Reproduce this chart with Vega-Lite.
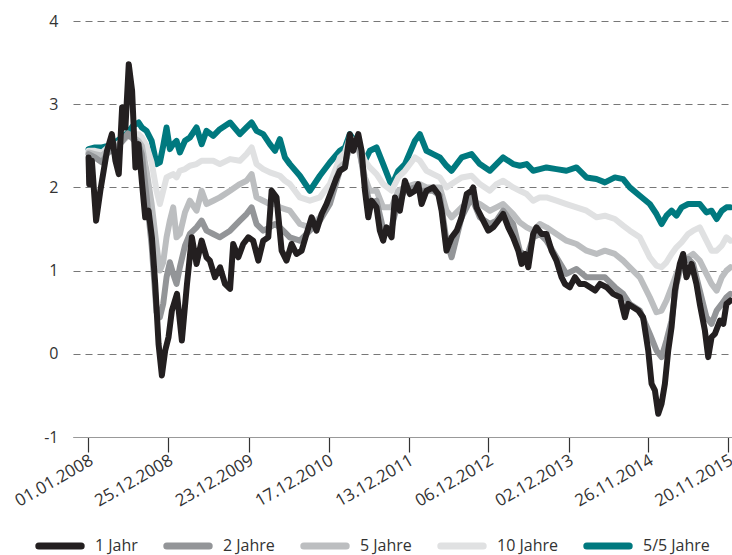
{
  "$schema": "https://vega.github.io/schema/vega-lite/v6.json",
  "width": 659,
  "height": 416,
  "autosize": {"type": "none"},
  "padding": {"left": 73, "top": 21, "right": 0, "bottom": 118},
  "background": "white",
  "config": {"font": "Open Sans", "view": {"stroke": null}},
  "data": {
    "values": [
      {"d":"2008-01-02","2 Jahre":2.40,"5 Jahre":2.42,"10 Jahre":2.44,"5/5 Jahre":2.46},
      {"d":"2008-01-31","2 Jahre":2.36,"5 Jahre":2.40,"10 Jahre":2.44,"5/5 Jahre":2.48},
      {"d":"2008-03-02","2 Jahre":2.30,"5 Jahre":2.38,"10 Jahre":2.42,"5/5 Jahre":2.48},
      {"d":"2008-03-29","2 Jahre":2.42,"5 Jahre":2.45,"10 Jahre":2.48,"5/5 Jahre":2.50},
      {"d":"2008-04-30","2 Jahre":2.45,"5 Jahre":2.48,"10 Jahre":2.50,"5/5 Jahre":2.54},
      {"d":"2008-05-31","2 Jahre":2.55,"5 Jahre":2.55,"10 Jahre":2.56,"5/5 Jahre":2.60},
      {"d":"2008-06-27","2 Jahre":2.65,"5 Jahre":2.62,"10 Jahre":2.62,"5/5 Jahre":2.66},
      {"d":"2008-07-20","2 Jahre":2.58,"5 Jahre":2.60,"10 Jahre":2.64,"5/5 Jahre":2.74},
      {"d":"2008-08-14","2 Jahre":2.52,"5 Jahre":2.56,"10 Jahre":2.64,"5/5 Jahre":2.78},
      {"d":"2008-08-29","2 Jahre":2.40,"5 Jahre":2.50,"10 Jahre":2.60,"5/5 Jahre":2.72},
      {"d":"2008-09-19","2 Jahre":1.90,"5 Jahre":2.20,"10 Jahre":2.50,"5/5 Jahre":2.68},
      {"d":"2008-10-12","2 Jahre":1.30,"5 Jahre":1.80,"10 Jahre":2.30,"5/5 Jahre":2.56},
      {"d":"2008-11-03","2 Jahre":0.50,"5 Jahre":1.30,"10 Jahre":1.96,"5/5 Jahre":2.28},
      {"d":"2008-11-18","2 Jahre":0.44,"5 Jahre":1.00,"10 Jahre":1.80,"5/5 Jahre":2.30},
      {"d":"2008-12-03","2 Jahre":0.60,"5 Jahre":1.10,"10 Jahre":1.96,"5/5 Jahre":2.50},
      {"d":"2008-12-18","2 Jahre":0.92,"5 Jahre":1.40,"10 Jahre":2.12,"5/5 Jahre":2.72},
      {"d":"2009-01-02","2 Jahre":1.10,"5 Jahre":1.60,"10 Jahre":2.14,"5/5 Jahre":2.46},
      {"d":"2009-01-17","2 Jahre":0.96,"5 Jahre":1.76,"10 Jahre":2.16,"5/5 Jahre":2.52},
      {"d":"2009-02-01","2 Jahre":0.84,"5 Jahre":1.40,"10 Jahre":2.12,"5/5 Jahre":2.56},
      {"d":"2009-02-16","2 Jahre":1.04,"5 Jahre":1.44,"10 Jahre":2.20,"5/5 Jahre":2.42},
      {"d":"2009-03-11","2 Jahre":1.30,"5 Jahre":1.70,"10 Jahre":2.22,"5/5 Jahre":2.56},
      {"d":"2009-04-02","2 Jahre":1.44,"5 Jahre":1.84,"10 Jahre":2.26,"5/5 Jahre":2.60},
      {"d":"2009-05-02","2 Jahre":1.52,"5 Jahre":1.72,"10 Jahre":2.28,"5/5 Jahre":2.72},
      {"d":"2009-05-25","2 Jahre":1.60,"5 Jahre":1.96,"10 Jahre":2.32,"5/5 Jahre":2.52},
      {"d":"2009-06-16","2 Jahre":1.48,"5 Jahre":1.80,"10 Jahre":2.32,"5/5 Jahre":2.68},
      {"d":"2009-07-16","2 Jahre":1.44,"5 Jahre":1.84,"10 Jahre":2.32,"5/5 Jahre":2.62},
      {"d":"2009-08-15","2 Jahre":1.40,"5 Jahre":1.88,"10 Jahre":2.28,"5/5 Jahre":2.70},
      {"d":"2009-09-30","2 Jahre":1.48,"5 Jahre":1.96,"10 Jahre":2.34,"5/5 Jahre":2.78},
      {"d":"2009-11-13","2 Jahre":1.60,"5 Jahre":2.04,"10 Jahre":2.32,"5/5 Jahre":2.64},
      {"d":"2009-12-13","2 Jahre":1.68,"5 Jahre":2.08,"10 Jahre":2.40,"5/5 Jahre":2.72},
      {"d":"2010-01-05","2 Jahre":1.76,"5 Jahre":2.16,"10 Jahre":2.48,"5/5 Jahre":2.78},
      {"d":"2010-01-27","2 Jahre":1.56,"5 Jahre":1.88,"10 Jahre":2.28,"5/5 Jahre":2.68},
      {"d":"2010-02-26","2 Jahre":1.48,"5 Jahre":1.84,"10 Jahre":2.22,"5/5 Jahre":2.64},
      {"d":"2010-03-28","2 Jahre":1.52,"5 Jahre":1.80,"10 Jahre":2.18,"5/5 Jahre":2.52},
      {"d":"2010-04-20","2 Jahre":1.56,"5 Jahre":1.80,"10 Jahre":2.16,"5/5 Jahre":2.44},
      {"d":"2010-05-12","2 Jahre":1.52,"5 Jahre":1.76,"10 Jahre":2.14,"5/5 Jahre":2.58},
      {"d":"2010-06-04","2 Jahre":1.46,"5 Jahre":1.74,"10 Jahre":2.08,"5/5 Jahre":2.36},
      {"d":"2010-06-26","2 Jahre":1.40,"5 Jahre":1.72,"10 Jahre":2.04,"5/5 Jahre":2.28},
      {"d":"2010-08-10","2 Jahre":1.36,"5 Jahre":1.56,"10 Jahre":1.88,"5/5 Jahre":2.14},
      {"d":"2010-09-24","2 Jahre":1.48,"5 Jahre":1.52,"10 Jahre":1.84,"5/5 Jahre":1.96},
      {"d":"2010-11-08","2 Jahre":1.60,"5 Jahre":1.64,"10 Jahre":1.88,"5/5 Jahre":2.14},
      {"d":"2010-12-23","2 Jahre":1.80,"5 Jahre":1.84,"10 Jahre":2.04,"5/5 Jahre":2.30},
      {"d":"2011-02-06","2 Jahre":2.20,"5 Jahre":2.24,"10 Jahre":2.36,"5/5 Jahre":2.44},
      {"d":"2011-03-01","2 Jahre":2.24,"5 Jahre":2.30,"10 Jahre":2.42,"5/5 Jahre":2.48},
      {"d":"2011-03-23","2 Jahre":2.56,"5 Jahre":2.48,"10 Jahre":2.60,"5/5 Jahre":2.64},
      {"d":"2011-04-30","2 Jahre":2.56,"5 Jahre":2.48,"10 Jahre":2.52,"5/5 Jahre":2.50},
      {"d":"2011-05-30","2 Jahre":2.04,"5 Jahre":2.12,"10 Jahre":2.32,"5/5 Jahre":2.32},
      {"d":"2011-06-21","2 Jahre":1.80,"5 Jahre":1.96,"10 Jahre":2.24,"5/5 Jahre":2.44},
      {"d":"2011-07-21","2 Jahre":1.84,"5 Jahre":1.96,"10 Jahre":2.16,"5/5 Jahre":2.48},
      {"d":"2011-08-20","2 Jahre":1.50,"5 Jahre":1.76,"10 Jahre":2.04,"5/5 Jahre":2.28},
      {"d":"2011-09-27","2 Jahre":1.52,"5 Jahre":1.76,"10 Jahre":1.96,"5/5 Jahre":2.02},
      {"d":"2011-10-27","2 Jahre":1.84,"5 Jahre":1.96,"10 Jahre":2.12,"5/5 Jahre":2.20},
      {"d":"2011-11-26","2 Jahre":1.96,"5 Jahre":2.00,"10 Jahre":2.20,"5/5 Jahre":2.28},
      {"d":"2012-01-10","2 Jahre":2.00,"5 Jahre":2.04,"10 Jahre":2.36,"5/5 Jahre":2.56},
      {"d":"2012-02-01","2 Jahre":1.96,"5 Jahre":2.04,"10 Jahre":2.32,"5/5 Jahre":2.64},
      {"d":"2012-03-02","2 Jahre":1.96,"5 Jahre":2.00,"10 Jahre":2.20,"5/5 Jahre":2.44},
      {"d":"2012-04-01","2 Jahre":1.96,"5 Jahre":2.00,"10 Jahre":2.16,"5/5 Jahre":2.40},
      {"d":"2012-05-01","2 Jahre":1.90,"5 Jahre":2.00,"10 Jahre":2.12,"5/5 Jahre":2.36},
      {"d":"2012-05-31","2 Jahre":1.36,"5 Jahre":1.72,"10 Jahre":2.00,"5/5 Jahre":2.26},
      {"d":"2012-06-23","2 Jahre":1.16,"5 Jahre":1.64,"10 Jahre":2.04,"5/5 Jahre":2.20},
      {"d":"2012-08-07","2 Jahre":1.64,"5 Jahre":1.76,"10 Jahre":2.12,"5/5 Jahre":2.36},
      {"d":"2012-09-21","2 Jahre":1.88,"5 Jahre":1.84,"10 Jahre":2.14,"5/5 Jahre":2.40},
      {"d":"2012-10-28","2 Jahre":1.64,"5 Jahre":1.80,"10 Jahre":2.04,"5/5 Jahre":2.28},
      {"d":"2012-12-12","2 Jahre":1.56,"5 Jahre":1.72,"10 Jahre":1.96,"5/5 Jahre":2.20},
      {"d":"2013-01-11","2 Jahre":1.60,"5 Jahre":1.76,"10 Jahre":2.04,"5/5 Jahre":2.28},
      {"d":"2013-02-10","2 Jahre":1.72,"5 Jahre":1.80,"10 Jahre":2.08,"5/5 Jahre":2.36},
      {"d":"2013-03-27","2 Jahre":1.56,"5 Jahre":1.68,"10 Jahre":2.00,"5/5 Jahre":2.28},
      {"d":"2013-04-26","2 Jahre":1.24,"5 Jahre":1.58,"10 Jahre":1.96,"5/5 Jahre":2.26},
      {"d":"2013-05-27","2 Jahre":1.16,"5 Jahre":1.52,"10 Jahre":1.92,"5/5 Jahre":2.28},
      {"d":"2013-06-25","2 Jahre":1.40,"5 Jahre":1.48,"10 Jahre":1.84,"5/5 Jahre":2.20},
      {"d":"2013-07-25","2 Jahre":1.44,"5 Jahre":1.56,"10 Jahre":1.88,"5/5 Jahre":2.22},
      {"d":"2013-08-24","2 Jahre":1.36,"5 Jahre":1.52,"10 Jahre":1.88,"5/5 Jahre":2.24},
      {"d":"2013-10-08","2 Jahre":1.16,"5 Jahre":1.44,"10 Jahre":1.84,"5/5 Jahre":2.22},
      {"d":"2013-11-22","2 Jahre":0.96,"5 Jahre":1.36,"10 Jahre":1.80,"5/5 Jahre":2.20},
      {"d":"2014-01-06","2 Jahre":1.02,"5 Jahre":1.32,"10 Jahre":1.76,"5/5 Jahre":2.24},
      {"d":"2014-02-20","2 Jahre":0.92,"5 Jahre":1.24,"10 Jahre":1.72,"5/5 Jahre":2.12},
      {"d":"2014-04-06","2 Jahre":0.92,"5 Jahre":1.20,"10 Jahre":1.64,"5/5 Jahre":2.10},
      {"d":"2014-05-14","2 Jahre":0.92,"5 Jahre":1.24,"10 Jahre":1.66,"5/5 Jahre":2.06},
      {"d":"2014-06-28","2 Jahre":0.80,"5 Jahre":1.20,"10 Jahre":1.62,"5/5 Jahre":2.12},
      {"d":"2014-08-04","2 Jahre":0.72,"5 Jahre":1.12,"10 Jahre":1.54,"5/5 Jahre":2.10},
      {"d":"2014-09-03","2 Jahre":0.60,"5 Jahre":1.04,"10 Jahre":1.48,"5/5 Jahre":2.00},
      {"d":"2014-10-18","2 Jahre":0.52,"5 Jahre":0.92,"10 Jahre":1.40,"5/5 Jahre":1.90},
      {"d":"2014-12-02","2 Jahre":0.24,"5 Jahre":0.68,"10 Jahre":1.16,"5/5 Jahre":1.80},
      {"d":"2015-01-01","2 Jahre":0.04,"5 Jahre":0.50,"10 Jahre":1.06,"5/5 Jahre":1.68},
      {"d":"2015-01-24","2 Jahre":-0.04,"5 Jahre":0.52,"10 Jahre":1.04,"5/5 Jahre":1.56},
      {"d":"2015-02-15","2 Jahre":0.16,"5 Jahre":0.64,"10 Jahre":1.10,"5/5 Jahre":1.66},
      {"d":"2015-03-10","2 Jahre":0.40,"5 Jahre":0.80,"10 Jahre":1.20,"5/5 Jahre":1.72},
      {"d":"2015-04-01","2 Jahre":0.84,"5 Jahre":0.96,"10 Jahre":1.28,"5/5 Jahre":1.66},
      {"d":"2015-04-24","2 Jahre":1.08,"5 Jahre":1.08,"10 Jahre":1.34,"5/5 Jahre":1.76},
      {"d":"2015-05-24","2 Jahre":1.14,"5 Jahre":1.16,"10 Jahre":1.44,"5/5 Jahre":1.80},
      {"d":"2015-06-15","2 Jahre":1.08,"5 Jahre":1.20,"10 Jahre":1.48,"5/5 Jahre":1.80},
      {"d":"2015-07-15","2 Jahre":0.76,"5 Jahre":1.12,"10 Jahre":1.52,"5/5 Jahre":1.80},
      {"d":"2015-08-14","2 Jahre":0.44,"5 Jahre":0.96,"10 Jahre":1.36,"5/5 Jahre":1.70},
      {"d":"2015-09-06","2 Jahre":0.36,"5 Jahre":0.84,"10 Jahre":1.24,"5/5 Jahre":1.72},
      {"d":"2015-09-29","2 Jahre":0.52,"5 Jahre":0.76,"10 Jahre":1.24,"5/5 Jahre":1.62},
      {"d":"2015-10-22","2 Jahre":0.60,"5 Jahre":0.92,"10 Jahre":1.30,"5/5 Jahre":1.72},
      {"d":"2015-11-12","2 Jahre":0.68,"5 Jahre":1.00,"10 Jahre":1.40,"5/5 Jahre":1.76},
      {"d":"2015-11-30","2 Jahre":0.72,"5 Jahre":1.04,"10 Jahre":1.36,"5/5 Jahre":1.76},
      {"d":"2008-01-02","1 Jahr":2.36},
      {"d":"2008-01-05","1 Jahr":2.04},
      {"d":"2008-01-17","1 Jahr":2.32},
      {"d":"2008-02-05","1 Jahr":1.60},
      {"d":"2008-02-24","1 Jahr":1.96},
      {"d":"2008-03-10","1 Jahr":2.20},
      {"d":"2008-03-25","1 Jahr":2.44},
      {"d":"2008-04-16","1 Jahr":2.64},
      {"d":"2008-05-02","1 Jahr":2.32},
      {"d":"2008-05-17","1 Jahr":2.16},
      {"d":"2008-06-01","1 Jahr":2.96},
      {"d":"2008-06-16","1 Jahr":2.72},
      {"d":"2008-07-01","1 Jahr":3.48},
      {"d":"2008-07-16","1 Jahr":3.16},
      {"d":"2008-07-31","1 Jahr":2.24},
      {"d":"2008-08-14","1 Jahr":2.52},
      {"d":"2008-08-30","1 Jahr":2.04},
      {"d":"2008-09-13","1 Jahr":1.64},
      {"d":"2008-09-28","1 Jahr":1.72},
      {"d":"2008-10-13","1 Jahr":1.40},
      {"d":"2008-10-28","1 Jahr":0.84},
      {"d":"2008-11-12","1 Jahr":0.12},
      {"d":"2008-11-27","1 Jahr":-0.26},
      {"d":"2008-12-12","1 Jahr":0.04},
      {"d":"2008-12-27","1 Jahr":0.20},
      {"d":"2009-01-11","1 Jahr":0.52},
      {"d":"2009-02-03","1 Jahr":0.72},
      {"d":"2009-02-25","1 Jahr":0.16},
      {"d":"2009-03-20","1 Jahr":0.84},
      {"d":"2009-04-11","1 Jahr":1.40},
      {"d":"2009-05-02","1 Jahr":1.08},
      {"d":"2009-05-25","1 Jahr":1.36},
      {"d":"2009-06-16","1 Jahr":1.16},
      {"d":"2009-07-01","1 Jahr":1.12},
      {"d":"2009-07-24","1 Jahr":0.92},
      {"d":"2009-08-16","1 Jahr":1.04},
      {"d":"2009-09-07","1 Jahr":0.84},
      {"d":"2009-09-30","1 Jahr":0.78},
      {"d":"2009-10-14","1 Jahr":1.32},
      {"d":"2009-11-06","1 Jahr":1.16},
      {"d":"2009-11-28","1 Jahr":1.32},
      {"d":"2009-12-21","1 Jahr":1.40},
      {"d":"2010-01-12","1 Jahr":1.36},
      {"d":"2010-02-04","1 Jahr":1.12},
      {"d":"2010-02-26","1 Jahr":1.36},
      {"d":"2010-03-21","1 Jahr":1.40},
      {"d":"2010-04-05","1 Jahr":1.96},
      {"d":"2010-04-27","1 Jahr":1.88},
      {"d":"2010-05-20","1 Jahr":1.24},
      {"d":"2010-06-11","1 Jahr":1.12},
      {"d":"2010-07-04","1 Jahr":1.32},
      {"d":"2010-07-26","1 Jahr":1.20},
      {"d":"2010-08-18","1 Jahr":1.24},
      {"d":"2010-09-09","1 Jahr":1.44},
      {"d":"2010-10-02","1 Jahr":1.64},
      {"d":"2010-10-24","1 Jahr":1.48},
      {"d":"2010-11-16","1 Jahr":1.68},
      {"d":"2010-12-08","1 Jahr":1.80},
      {"d":"2010-12-31","1 Jahr":1.96},
      {"d":"2011-01-23","1 Jahr":2.12},
      {"d":"2011-02-06","1 Jahr":2.20},
      {"d":"2011-03-01","1 Jahr":2.24},
      {"d":"2011-03-23","1 Jahr":2.64},
      {"d":"2011-04-07","1 Jahr":2.44},
      {"d":"2011-04-30","1 Jahr":2.64},
      {"d":"2011-05-15","1 Jahr":2.44},
      {"d":"2011-05-30","1 Jahr":1.96},
      {"d":"2011-06-14","1 Jahr":1.64},
      {"d":"2011-06-29","1 Jahr":1.84},
      {"d":"2011-07-21","1 Jahr":1.76},
      {"d":"2011-08-05","1 Jahr":1.48},
      {"d":"2011-08-20","1 Jahr":1.36},
      {"d":"2011-09-04","1 Jahr":1.52},
      {"d":"2011-09-27","1 Jahr":1.40},
      {"d":"2011-10-12","1 Jahr":1.88},
      {"d":"2011-11-03","1 Jahr":1.72},
      {"d":"2011-11-26","1 Jahr":2.08},
      {"d":"2011-12-18","1 Jahr":1.92},
      {"d":"2012-01-10","1 Jahr":1.96},
      {"d":"2012-01-25","1 Jahr":2.04},
      {"d":"2012-02-09","1 Jahr":1.80},
      {"d":"2012-03-02","1 Jahr":1.96},
      {"d":"2012-04-01","1 Jahr":2.00},
      {"d":"2012-04-24","1 Jahr":1.92},
      {"d":"2012-05-09","1 Jahr":1.72},
      {"d":"2012-05-31","1 Jahr":1.24},
      {"d":"2012-06-23","1 Jahr":1.40},
      {"d":"2012-07-16","1 Jahr":1.48},
      {"d":"2012-08-07","1 Jahr":1.64},
      {"d":"2012-08-30","1 Jahr":1.92},
      {"d":"2012-09-21","1 Jahr":1.96},
      {"d":"2012-09-28","1 Jahr":2.00},
      {"d":"2012-10-13","1 Jahr":1.76},
      {"d":"2012-11-05","1 Jahr":1.64},
      {"d":"2012-12-05","1 Jahr":1.48},
      {"d":"2012-12-27","1 Jahr":1.52},
      {"d":"2013-01-19","1 Jahr":1.60},
      {"d":"2013-02-10","1 Jahr":1.68},
      {"d":"2013-03-05","1 Jahr":1.52},
      {"d":"2013-03-27","1 Jahr":1.40},
      {"d":"2013-04-19","1 Jahr":1.24},
      {"d":"2013-05-04","1 Jahr":1.08},
      {"d":"2013-05-19","1 Jahr":1.20},
      {"d":"2013-06-03","1 Jahr":1.04},
      {"d":"2013-06-25","1 Jahr":1.44},
      {"d":"2013-07-10","1 Jahr":1.52},
      {"d":"2013-08-02","1 Jahr":1.44},
      {"d":"2013-08-24","1 Jahr":1.44},
      {"d":"2013-09-16","1 Jahr":1.24},
      {"d":"2013-10-08","1 Jahr":1.12},
      {"d":"2013-10-31","1 Jahr":0.92},
      {"d":"2013-11-15","1 Jahr":0.84},
      {"d":"2013-12-07","1 Jahr":0.80},
      {"d":"2013-12-30","1 Jahr":0.92},
      {"d":"2014-01-21","1 Jahr":0.84},
      {"d":"2014-02-13","1 Jahr":0.84},
      {"d":"2014-03-08","1 Jahr":0.80},
      {"d":"2014-03-31","1 Jahr":0.76},
      {"d":"2014-04-22","1 Jahr":0.84},
      {"d":"2014-05-22","1 Jahr":0.80},
      {"d":"2014-06-20","1 Jahr":0.72},
      {"d":"2014-07-21","1 Jahr":0.68},
      {"d":"2014-08-12","1 Jahr":0.44},
      {"d":"2014-08-27","1 Jahr":0.60},
      {"d":"2014-09-18","1 Jahr":0.56},
      {"d":"2014-10-11","1 Jahr":0.52},
      {"d":"2014-11-02","1 Jahr":0.44},
      {"d":"2014-11-25","1 Jahr":0.04},
      {"d":"2014-12-10","1 Jahr":-0.36},
      {"d":"2014-12-25","1 Jahr":-0.44},
      {"d":"2015-01-09","1 Jahr":-0.72},
      {"d":"2015-01-24","1 Jahr":-0.60},
      {"d":"2015-02-08","1 Jahr":-0.36},
      {"d":"2015-02-23","1 Jahr":0.04},
      {"d":"2015-03-10","1 Jahr":0.32},
      {"d":"2015-03-25","1 Jahr":0.76},
      {"d":"2015-04-16","1 Jahr":1.08},
      {"d":"2015-05-01","1 Jahr":1.20},
      {"d":"2015-05-16","1 Jahr":0.92},
      {"d":"2015-06-08","1 Jahr":1.08},
      {"d":"2015-06-30","1 Jahr":0.84},
      {"d":"2015-07-15","1 Jahr":0.60},
      {"d":"2015-08-07","1 Jahr":0.28},
      {"d":"2015-08-22","1 Jahr":-0.04},
      {"d":"2015-09-06","1 Jahr":0.20},
      {"d":"2015-09-21","1 Jahr":0.24},
      {"d":"2015-10-14","1 Jahr":0.40},
      {"d":"2015-10-29","1 Jahr":0.36},
      {"d":"2015-11-12","1 Jahr":0.60},
      {"d":"2015-11-30","1 Jahr":0.64}
    ]
  },
  "encoding": {
    "x": {
      "field": "d",
      "type": "temporal",
      "scale": {"domain": [{"year": 2007, "month": 10, "date": 24}, {"year": 2015, "month": 12, "date": 7}]},
      "axis": {
        "values": [
          {"year": 2008, "month": 1, "date": 1},
          {"year": 2008, "month": 12, "date": 25},
          {"year": 2009, "month": 12, "date": 23},
          {"year": 2010, "month": 12, "date": 17},
          {"year": 2011, "month": 12, "date": 13},
          {"year": 2012, "month": 12, "date": 6},
          {"year": 2013, "month": 12, "date": 2},
          {"year": 2014, "month": 11, "date": 26},
          {"year": 2015, "month": 11, "date": 20}
        ],
        "format": "%d.%m.%Y",
        "title": null,
        "grid": false,
        "labelAngle": -30,
        "labelAlign": "right",
        "labelBaseline": "top",
        "labelFontSize": 17,
        "labelColor": "#333333",
        "labelPadding": 0,
        "labelOffset": -1,
        "labelOverlap": false,
        "labelFlush": false,
        "tickSize": 15,
        "tickColor": "#333333",
        "tickWidth": 1.2,
        "domainColor": "#999999",
        "domainWidth": 1
      }
    },
    "y": {
      "field": "wert",
      "type": "quantitative",
      "scale": {"domain": [-1, 4], "nice": false},
      "axis": {
        "values": [-1, 0, 1, 2, 3, 4],
        "labelExpr": "'' + datum.value",
        "title": null,
        "ticks": false,
        "domain": false,
        "labelFontSize": 16,
        "labelColor": "#333333",
        "labelPadding": 15,
        "grid": true,
        "gridColor": "#777777",
        "gridDash": [7, 5],
        "gridWidth": 1.2
      }
    },
    "color": {
      "field": "serie",
      "type": "nominal",
      "scale": {
        "domain": ["1 Jahr", "2 Jahre", "5 Jahre", "10 Jahre", "5/5 Jahre"],
        "range": ["#231f20", "#939598", "#bcbec0", "#e0e1e2", "#00797f"]
      },
      "legend": {
        "title": null,
        "orient": "none",
        "legendX": -38,
        "legendY": 500,
        "direction": "horizontal",
        "symbolType": "stroke",
        "symbolSize": 1800,
        "symbolStrokeWidth": 7,
        "labelFontSize": 16,
        "labelColor": "#333333",
        "labelOffset": 10,
        "columnPadding": 14,
        "padding": 0,
        "encode": {"symbols": {"update": {"strokeCap": {"value": "round"}}}}
      }
    }
  },
  "layer": [
    {
      "transform": [{"fold": ["5/5 Jahre"], "as": ["serie", "wert"]}, {"filter": {"field": "wert", "valid": true}}],
      "mark": {"type": "line", "strokeWidth": 6, "strokeJoin": "round", "strokeCap": "round"}
    },
    {
      "transform": [{"fold": ["10 Jahre"], "as": ["serie", "wert"]}, {"filter": {"field": "wert", "valid": true}}],
      "mark": {"type": "line", "strokeWidth": 6, "strokeJoin": "round", "strokeCap": "round"}
    },
    {
      "transform": [{"fold": ["5 Jahre"], "as": ["serie", "wert"]}, {"filter": {"field": "wert", "valid": true}}],
      "mark": {"type": "line", "strokeWidth": 6, "strokeJoin": "round", "strokeCap": "round"}
    },
    {
      "transform": [{"fold": ["2 Jahre"], "as": ["serie", "wert"]}, {"filter": {"field": "wert", "valid": true}}],
      "mark": {"type": "line", "strokeWidth": 6, "strokeJoin": "round", "strokeCap": "round"}
    },
    {
      "transform": [{"fold": ["1 Jahr"], "as": ["serie", "wert"]}, {"filter": {"field": "wert", "valid": true}}],
      "mark": {"type": "line", "strokeWidth": 6, "strokeJoin": "round", "strokeCap": "round"}
    }
  ]
}
